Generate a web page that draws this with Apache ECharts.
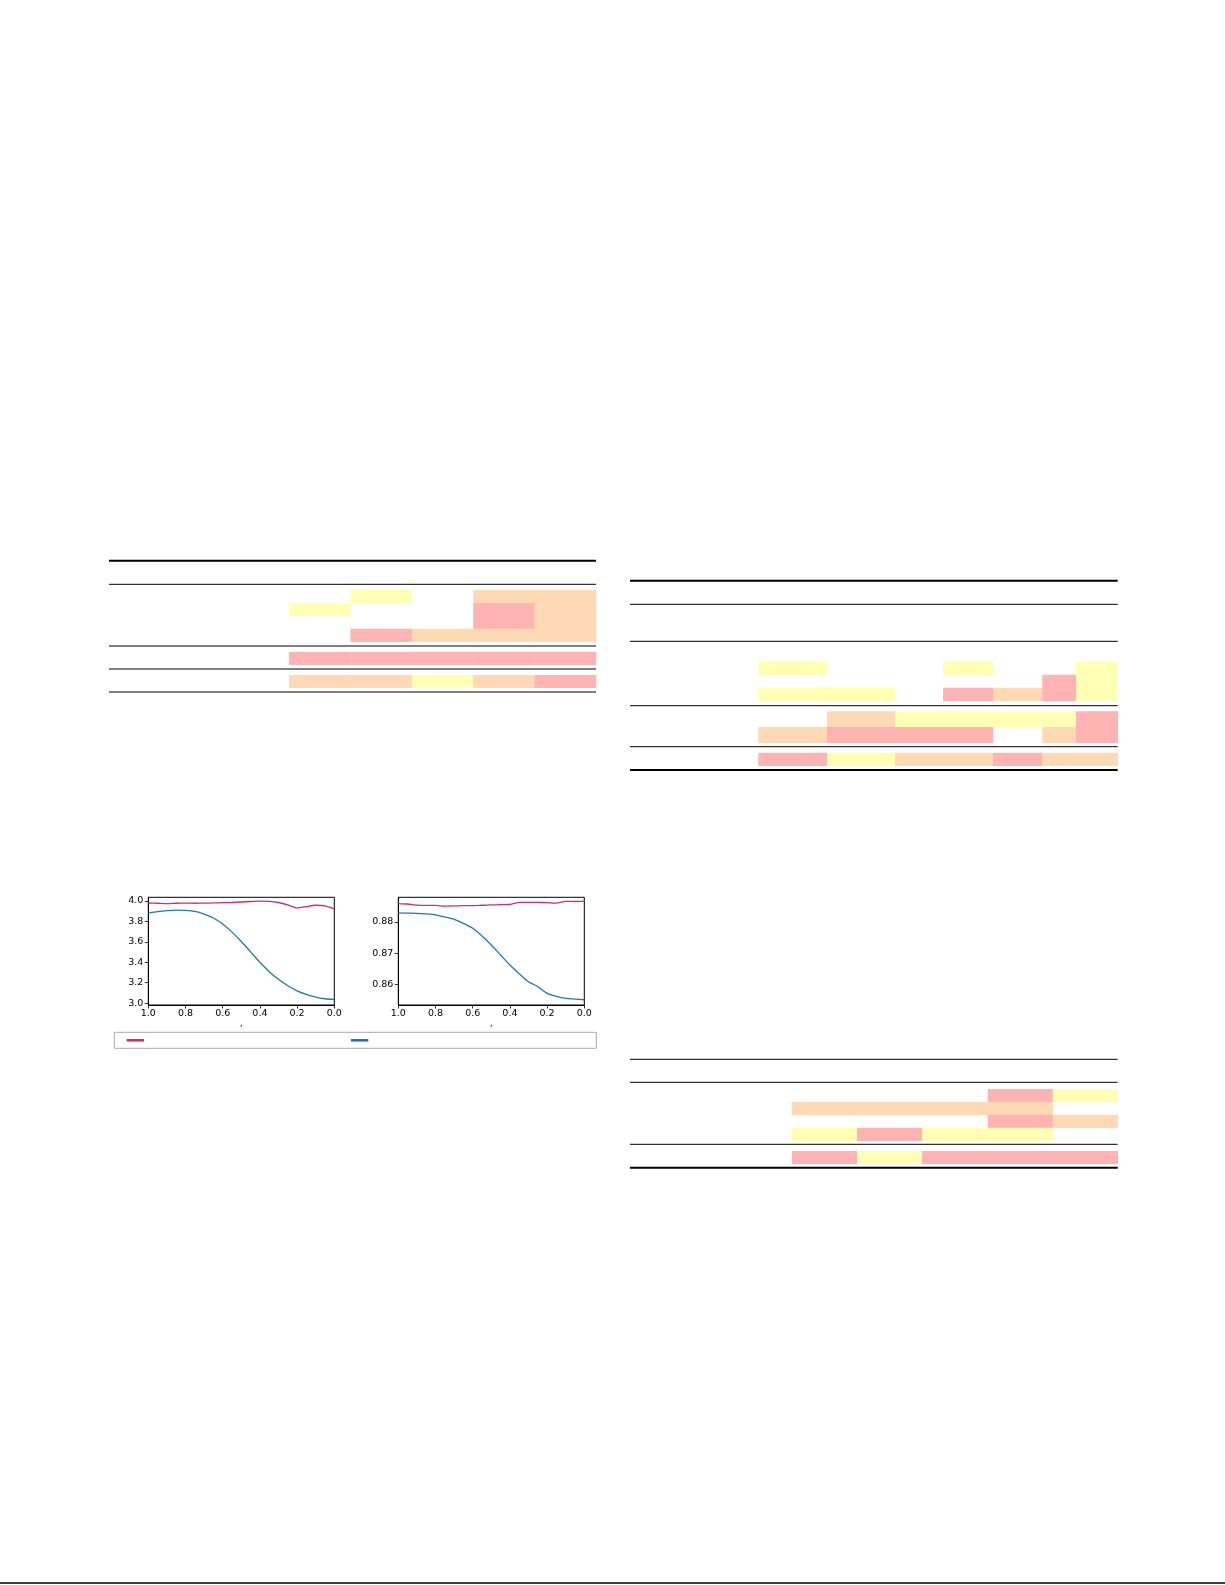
<!DOCTYPE html>
<html>
<head>
<meta charset="utf-8">
<script src="https://cdn.jsdelivr.net/npm/echarts@6/dist/echarts.min.js"></script>
<style>
  html, body { margin: 0; padding: 0; background: #fff; }
  #main { width: 1225px; height: 1585px; }
</style>
</head>
<body>
<div id="main"></div>
<script>
// ---------------- DATA ----------------
// x positions shared by both line plots (axis runs from 1.0 down to 0.0)
const xValues = [1.0, 0.95, 0.9, 0.85, 0.8, 0.75, 0.7, 0.65, 0.6, 0.55, 0.5,
                 0.45, 0.4, 0.35, 0.3, 0.25, 0.2, 0.15, 0.1, 0.05, 0.0];
// left plot
const leftPink = [3.980, 3.978, 3.975, 3.978, 3.979, 3.978, 3.979, 3.981, 3.983, 3.985, 3.990,
                  3.995, 3.998, 3.996, 3.985, 3.962, 3.932, 3.945, 3.958, 3.952, 3.922];
const leftBlue = [3.882, 3.895, 3.905, 3.911, 3.908, 3.898, 3.872, 3.833, 3.774, 3.695, 3.603,
                  3.502, 3.400, 3.308, 3.233, 3.170, 3.121, 3.085, 3.059, 3.043, 3.036];
// right plot
const rightPink = [0.88588, 0.88575, 0.88540, 0.88530, 0.88530, 0.88505, 0.88515, 0.88525, 0.88525, 0.88535, 0.88545,
                   0.88555, 0.88565, 0.88625, 0.88630, 0.88625, 0.88620, 0.88605, 0.88660, 0.88655, 0.88665];
const rightBlue = [0.88289, 0.88283, 0.88278, 0.88257, 0.88225, 0.88160, 0.88086, 0.87957, 0.87797, 0.87551, 0.87262,
                   0.86941, 0.86620, 0.86342, 0.86086, 0.85925, 0.85711, 0.85615, 0.85551, 0.85529, 0.85508];
const xTicks = [0, 0.2, 0.4, 0.6, 0.8, 1.0];
const leftYTicks = [3.0, 3.2, 3.4, 3.6, 3.8, 4.0];
const rightYTicks = [0.86, 0.87, 0.88];

// tables: cell highlight codes (P = pink, O = orange, Y = yellow, '' = none)
const t1RowsA = [
  ['', 'Y', '', 'O', 'O'],
  ['Y', '', '', 'P', 'O'],
  ['', '', '', 'P', 'O'],
  ['', 'P', 'O', 'O', 'O']
];
const t1RowsB = [['P', 'P', 'P', 'P', 'P']];
const t1RowsC = [['O', 'O', 'Y', 'O', 'P']];

const t2RowsA = [
  ['', '', '', '', '', '', ''],
  ['Y', '', '', 'Y', '', '', 'Y'],
  ['', '', '', '', '', 'P', 'Y'],
  ['Y', 'Y', '', 'P', 'O', 'P', 'Y']
];
const t2RowsB = [
  ['', 'O', 'Y', 'Y', 'Y', 'Y', 'P'],
  ['O', 'P', 'P', 'P', '', 'O', 'P']
];
const t2RowsC = [['P', 'Y', 'O', 'O', 'P', 'O', 'O']];

const t3RowsA = [
  ['', '', '', 'P', 'Y'],
  ['O', 'O', 'O', 'O', ''],
  ['', '', '', 'P', 'O'],
  ['Y', 'P', 'Y', 'Y', '']
];
const t3RowsB = [['P', 'Y', 'P', 'P', 'P']];

// ---------------- STYLE / LAYOUT ----------------
const cellColors = { P: '#FFB3B3', O: '#FFD9B3', Y: '#FFFFB3' };
const pinkLine = '#d62a6e';
const blueLine = '#1f77b4';
const tickFont = 'DejaVu Sans';

const tables = [
  {
    ruleLeft: 109, ruleRight: 596,
    cellLeft: 289, colWidths: [61.4, 61.4, 61.4, 61.4, 61.4],
    rules: [[560.7, 2], [584.3, 1], [646, 1], [669, 1], [692, 1]],
    sections: [
      { top: 590, height: 51.7, rows: t1RowsA },
      { top: 652, height: 12.7, rows: t1RowsB },
      { top: 675, height: 12.7, rows: t1RowsC }
    ]
  },
  {
    ruleLeft: 630, ruleRight: 1117.7,
    cellLeft: 758.3, colWidths: [68.7, 68, 48, 50, 49.3, 33.7, 41.7],
    rules: [[580.7, 2], [604.3, 1], [641.3, 1], [705.7, 1], [746.7, 1], [770, 2]],
    sections: [
      { top: 648.3, height: 52.7, rows: t2RowsA },
      { top: 711.3, height: 31.4, rows: t2RowsB },
      { top: 752.7, height: 13, rows: t2RowsC }
    ]
  },
  {
    ruleLeft: 630, ruleRight: 1117.7,
    cellLeft: 792, colWidths: [65, 65, 65.7, 65, 65],
    rules: [[1059.3, 1], [1082.3, 1], [1144.3, 1], [1167.7, 2]],
    sections: [
      { top: 1089, height: 51.7, rows: t3RowsA },
      { top: 1151, height: 12.7, rows: t3RowsB }
    ]
  }
];

const grids = [], xAxes = [], yAxes = [], series = [], graphics = [];

// ---------- line plots ----------
function pairs(ys) { return xValues.map((x, i) => [x, ys[i]]); }
function addPlot(left, yMin, yMax, yTicks, yDecimals, pinkData, blueData, names) {
  const gi = grids.length;
  grids.push({ left: left, top: 897.3, width: 186, height: 107.7, show: true,
               borderColor: '#000', borderWidth: 1, backgroundColor: 'transparent' });
  xAxes.push({
    type: 'value', gridIndex: gi, min: 0, max: 1, inverse: true,
    name: ',', nameLocation: 'middle', nameGap: 15,
    nameTextStyle: { fontFamily: tickFont, fontSize: 8, color: '#000' },
    axisLine: { show: true, onZero: false, lineStyle: { color: '#000', width: 1 } },
    axisTick: { show: true, inside: false, length: 3.5, customValues: xTicks, lineStyle: { color: '#000', width: 0.8 } },
    axisLabel: { show: true, margin: 4, customValues: xTicks, fontFamily: tickFont, fontSize: 9.5, color: '#000',
                 formatter: v => v.toFixed(1) },
    splitLine: { show: false }
  });
  yAxes.push({
    type: 'value', gridIndex: gi, min: yMin, max: yMax, scale: true,
    axisLine: { show: true, onZero: false, lineStyle: { color: '#000', width: 1 } },
    axisTick: { show: true, inside: false, length: 3.5, customValues: yTicks, lineStyle: { color: '#000', width: 0.8 } },
    axisLabel: { show: true, margin: 5, customValues: yTicks, fontFamily: tickFont, fontSize: 9.5, color: '#000',
                 formatter: v => v.toFixed(yDecimals) },
    splitLine: { show: false }
  });
  series.push({ type: 'line', name: names[0], xAxisIndex: gi, yAxisIndex: gi, data: pairs(pinkData),
                showSymbol: false, symbol: 'none', smooth: 0.15,
                lineStyle: { color: pinkLine, width: 1.3 }, itemStyle: { color: pinkLine },
                animation: false, z: 3 });
  series.push({ type: 'line', name: names[1], xAxisIndex: gi, yAxisIndex: gi, data: pairs(blueData),
                showSymbol: false, symbol: 'none', smooth: 0.25,
                lineStyle: { color: blueLine, width: 1.3 }, itemStyle: { color: blueLine },
                animation: false, z: 2 });
}
addPlot(148.3, 2.982, 4.036, leftYTicks, 1, leftPink, leftBlue, ['pinkA', 'blueA']);
addPlot(398.3, 0.8534, 0.8879, rightYTicks, 2, rightPink, rightBlue, ['pinkB', 'blueB']);

// ---------- tables ----------
tables.forEach(tb => {
  const edges = [0];
  tb.colWidths.forEach(w => edges.push(edges[edges.length - 1] + w));
  const total = edges[edges.length - 1];
  tb.sections.forEach(sec => {
    const gi = grids.length;
    grids.push({ left: tb.cellLeft, top: sec.top, width: total, height: sec.height, show: false });
    xAxes.push({ type: 'value', gridIndex: gi, min: 0, max: total, show: false });
    yAxes.push({ type: 'category', gridIndex: gi, data: sec.rows.map((_, i) => i), inverse: true, show: false });
    const data = [];
    sec.rows.forEach((row, r) => row.forEach((code, c) => { if (code) data.push([c, r, code]); }));
    series.push({
      type: 'custom', xAxisIndex: gi, yAxisIndex: gi, data: data, animation: false, silent: true,
      encode: { x: 0, y: 1 },
      renderItem: function (params, api) {
        const c = api.value(0), r = api.value(1);
        const code = data[params.dataIndex][2];
        const p0 = api.coord([edges[c], r]);
        const p1 = api.coord([edges[c + 1], r]);
        const h = api.size([0, 1])[1];
        return { type: 'rect', shape: { x: p0[0], y: p0[1] - h / 2, width: p1[0] - p0[0] + 0.3, height: h + 0.3 },
                 style: { fill: cellColors[code] } };
      }
    });
  });
  tb.rules.forEach(([y, w]) => {
    graphics.push({ type: 'line', shape: { x1: tb.ruleLeft, y1: y, x2: tb.ruleRight, y2: y },
                    style: { stroke: '#000', lineWidth: w }, silent: true });
  });
});

// page footer rule
graphics.push({ type: 'line', shape: { x1: 0, y1: 1583, x2: 1225, y2: 1583 },
                style: { stroke: '#000', lineWidth: 1.5 }, silent: true });

const chart = echarts.init(document.getElementById('main'), null, { renderer: 'canvas' });
chart.setOption({
  backgroundColor: '#fff',
  animation: false,
  grid: grids,
  xAxis: xAxes,
  yAxis: yAxes,
  series: series,
  graphic: graphics,
  legend: {
    data: ['pinkA', 'blueA'],
    left: 114.3, top: 1032.3,
    orient: 'horizontal',
    icon: 'rect', itemWidth: 17.3, itemHeight: 2.6, itemGap: 202,
    formatter: () => '',
    textStyle: { fontSize: 9, lineHeight: 3 },
    padding: [6.7, 223, 6.7, 12.4],
    borderColor: '#a8a8a8', borderWidth: 1, borderRadius: 0,
    selectedMode: false
  }
});
</script>
</body>
</html>
